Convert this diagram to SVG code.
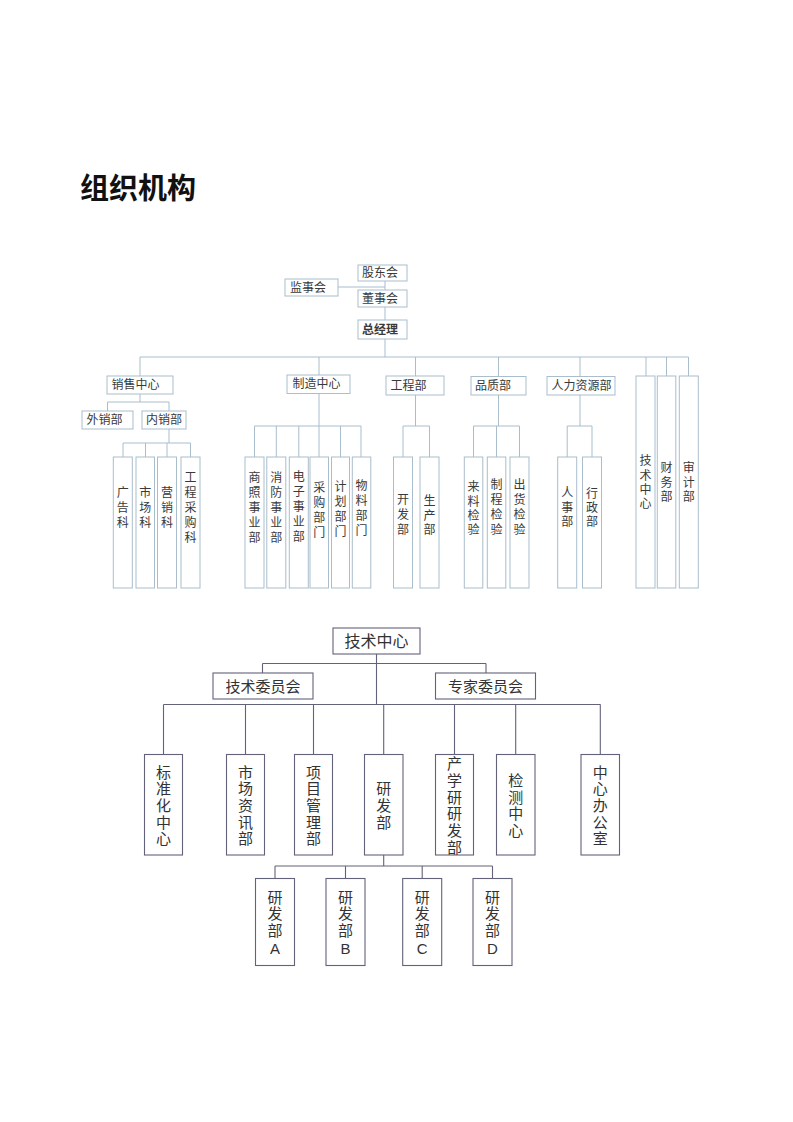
<svg xmlns="http://www.w3.org/2000/svg" width="793" height="1122" viewBox="0 0 793 1122">
<style>
text{font-family:"Liberation Sans","Noto Sans CJK SC",sans-serif;dominant-baseline:central}
.t rect{fill:#fff;stroke:#a9bdcc;stroke-width:1}
.t text{font-size:12px;fill:#3a3a3a}
.tc line{stroke:#a9bdcc;stroke-width:1}
.b rect{fill:#fff;stroke:#62627a;stroke-width:1.1}
.b text{font-size:15px;fill:#333;text-anchor:middle}
.bc line{stroke:#62627a;stroke-width:1.1}
.v text{text-anchor:middle}
</style>
<rect width="793" height="1122" fill="#fff"/>
<text x="80" y="186" style="font-family:'Noto Sans CJK SC',sans-serif;font-size:29px;font-weight:700;fill:#111">组织机构</text>

<g id="top-connectors" class="tc">
<line x1="338" y1="287" x2="385" y2="287"/>
<line x1="385" y1="281" x2="385" y2="290"/>
<line x1="385" y1="307" x2="385" y2="320"/>
<line x1="385" y1="339" x2="385" y2="357"/>
<line x1="140" y1="357" x2="688.5" y2="357"/>
<line x1="140" y1="357" x2="140" y2="376"/>
<line x1="319" y1="357" x2="319" y2="375"/>
<line x1="415.5" y1="357" x2="415.5" y2="376"/>
<line x1="498.5" y1="357" x2="498.5" y2="376.5"/>
<line x1="580" y1="357" x2="580" y2="376.5"/>
<line x1="646" y1="357" x2="646" y2="376"/>
<line x1="666.5" y1="357" x2="666.5" y2="376"/>
<line x1="688.5" y1="357" x2="688.5" y2="376"/>
<line x1="140" y1="394" x2="140" y2="402"/>
<line x1="107.5" y1="402" x2="169" y2="402"/>
<line x1="107.5" y1="402" x2="107.5" y2="411"/>
<line x1="169" y1="402" x2="169" y2="411"/>
<line x1="169" y1="429" x2="169" y2="443"/>
<line x1="123" y1="443" x2="190.5" y2="443"/>
<line x1="123" y1="443" x2="123" y2="457"/>
<line x1="145.5" y1="443" x2="145.5" y2="457"/>
<line x1="167" y1="443" x2="167" y2="457"/>
<line x1="190.5" y1="443" x2="190.5" y2="457"/>
<line x1="319" y1="393.5" x2="319" y2="426"/>
<line x1="254.5" y1="426" x2="361" y2="426"/>
<line x1="254.5" y1="426" x2="254.5" y2="457"/>
<line x1="276.3" y1="426" x2="276.3" y2="457"/>
<line x1="298.8" y1="426" x2="298.8" y2="457"/>
<line x1="319" y1="426" x2="319" y2="457"/>
<line x1="340.5" y1="426" x2="340.5" y2="457"/>
<line x1="361" y1="426" x2="361" y2="457"/>
<line x1="415.5" y1="395" x2="415.5" y2="426"/>
<line x1="403" y1="426" x2="429.5" y2="426"/>
<line x1="403" y1="426" x2="403" y2="457"/>
<line x1="429.5" y1="426" x2="429.5" y2="457"/>
<line x1="498.5" y1="395" x2="498.5" y2="426"/>
<line x1="473.5" y1="426" x2="519.5" y2="426"/>
<line x1="473.5" y1="426" x2="473.5" y2="457"/>
<line x1="496.5" y1="426" x2="496.5" y2="457"/>
<line x1="519.5" y1="426" x2="519.5" y2="457"/>
<line x1="580" y1="395" x2="580" y2="426"/>
<line x1="567.2" y1="426" x2="592" y2="426"/>
<line x1="567.2" y1="426" x2="567.2" y2="457"/>
<line x1="592" y1="426" x2="592" y2="457"/>
</g>

<g class="t">
<g id="gudonghui"><rect x="358" y="265" width="49" height="16"/><text x="362" y="273">股东会</text></g>
<g id="jianshihui"><rect x="285" y="279" width="53" height="17"/><text x="290" y="287.5">监事会</text></g>
<g id="dongshihui"><rect x="358" y="290" width="49" height="17"/><text x="362" y="298.5">董事会</text></g>
<g id="zongjingli"><rect x="358" y="320" width="49" height="19"/><text x="362" y="329.5" font-weight="700">总经理</text></g>
<g id="xiaoshou"><rect x="107" y="376" width="66" height="18"/><text x="111.5" y="385">销售中心</text></g>
<g id="waixiao"><rect x="82" y="411" width="51" height="18"/><text x="86.5" y="420">外销部</text></g>
<g id="neixiao"><rect x="142" y="411" width="44" height="18"/><text x="146" y="420">内销部</text></g>
<g id="zhizao"><rect x="287" y="375" width="63" height="18.5"/><text x="292.5" y="384.2">制造中心</text></g>
<g id="gongcheng"><rect x="386" y="376" width="58" height="19"/><text x="390.5" y="385.5">工程部</text></g>
<g id="pinzhi"><rect x="471" y="376.5" width="55" height="18.5"/><text x="475" y="385.8">品质部</text></g>
<g id="renli"><rect x="547" y="376.5" width="68" height="18.5"/><text x="551.5" y="385.8">人力资源部</text></g>

<g class="v">
<g id="guanggao"><rect x="113.3" y="457" width="19" height="131"/><text><tspan x="122.8" y="493">广</tspan><tspan x="122.8" y="508">告</tspan><tspan x="122.8" y="523">科</tspan></text></g>
<g id="shichang"><rect x="136" y="457" width="18.5" height="131"/><text><tspan x="145.2" y="493">市</tspan><tspan x="145.2" y="508">场</tspan><tspan x="145.2" y="523">科</tspan></text></g>
<g id="yingxiao"><rect x="157.5" y="457" width="19" height="131"/><text><tspan x="167" y="493">营</tspan><tspan x="167" y="508">销</tspan><tspan x="167" y="523">科</tspan></text></g>
<g id="gcaigou"><rect x="181" y="457" width="19" height="131"/><text><tspan x="190.5" y="478">工</tspan><tspan x="190.5" y="493">程</tspan><tspan x="190.5" y="508">采</tspan><tspan x="190.5" y="523">购</tspan><tspan x="190.5" y="538">科</tspan></text></g>
<g id="shangzhao"><rect x="245" y="457" width="19" height="131"/><text><tspan x="254.5" y="478">商</tspan><tspan x="254.5" y="493">照</tspan><tspan x="254.5" y="508">事</tspan><tspan x="254.5" y="523">业</tspan><tspan x="254.5" y="538">部</tspan></text></g>
<g id="xiaofang"><rect x="266.8" y="457" width="19" height="131"/><text><tspan x="276.3" y="478">消</tspan><tspan x="276.3" y="493">防</tspan><tspan x="276.3" y="508">事</tspan><tspan x="276.3" y="523">业</tspan><tspan x="276.3" y="538">部</tspan></text></g>
<g id="dianzi"><rect x="289.3" y="457" width="19" height="131"/><text><tspan x="298.8" y="477">电</tspan><tspan x="298.8" y="492">子</tspan><tspan x="298.8" y="507">事</tspan><tspan x="298.8" y="522">业</tspan><tspan x="298.8" y="537">部</tspan></text></g>
<g id="caigou"><rect x="310" y="457" width="18.5" height="131"/><text><tspan x="319.2" y="488">采</tspan><tspan x="319.2" y="503">购</tspan><tspan x="319.2" y="518">部</tspan><tspan x="319.2" y="533">门</tspan></text></g>
<g id="jihua"><rect x="331.5" y="457" width="18" height="131"/><text><tspan x="340.5" y="487">计</tspan><tspan x="340.5" y="502">划</tspan><tspan x="340.5" y="517">部</tspan><tspan x="340.5" y="532">门</tspan></text></g>
<g id="wuliao"><rect x="352.3" y="457" width="18.5" height="131"/><text><tspan x="361.5" y="486">物</tspan><tspan x="361.5" y="501">料</tspan><tspan x="361.5" y="516">部</tspan><tspan x="361.5" y="531">门</tspan></text></g>
<g id="kaifa"><rect x="393.5" y="457" width="19" height="131"/><text><tspan x="403" y="500">开</tspan><tspan x="403" y="515">发</tspan><tspan x="403" y="530">部</tspan></text></g>
<g id="shengchan"><rect x="420" y="457" width="19" height="131"/><text><tspan x="429.5" y="501">生</tspan><tspan x="429.5" y="516">产</tspan><tspan x="429.5" y="530">部</tspan></text></g>
<g id="lailiao"><rect x="464.3" y="457" width="18.5" height="131"/><text><tspan x="473.5" y="487">来</tspan><tspan x="473.5" y="501.5">料</tspan><tspan x="473.5" y="516">检</tspan><tspan x="473.5" y="530">验</tspan></text></g>
<g id="zhicheng"><rect x="487.3" y="457" width="18.5" height="131"/><text><tspan x="496.5" y="485">制</tspan><tspan x="496.5" y="500">程</tspan><tspan x="496.5" y="515">检</tspan><tspan x="496.5" y="530">验</tspan></text></g>
<g id="chuhuo"><rect x="510" y="457" width="19" height="131"/><text><tspan x="519.5" y="485">出</tspan><tspan x="519.5" y="500">货</tspan><tspan x="519.5" y="515">检</tspan><tspan x="519.5" y="530">验</tspan></text></g>
<g id="renshi"><rect x="557.7" y="457" width="19" height="131"/><text><tspan x="567.2" y="493">人</tspan><tspan x="567.2" y="508">事</tspan><tspan x="567.2" y="522">部</tspan></text></g>
<g id="xingzheng"><rect x="582.5" y="457" width="19" height="131"/><text><tspan x="592" y="494">行</tspan><tspan x="592" y="508">政</tspan><tspan x="592" y="522">部</tspan></text></g>
<g id="jishu-top"><rect x="636" y="376" width="19" height="212"/><text><tspan x="645.5" y="461">技</tspan><tspan x="645.5" y="476">术</tspan><tspan x="645.5" y="490">中</tspan><tspan x="645.5" y="504">心</tspan></text></g>
<g id="caiwu"><rect x="657.3" y="376" width="18.5" height="212"/><text><tspan x="666.5" y="468">财</tspan><tspan x="666.5" y="483">务</tspan><tspan x="666.5" y="497">部</tspan></text></g>
<g id="shenji"><rect x="679.3" y="376" width="19" height="212"/><text><tspan x="688.8" y="468">审</tspan><tspan x="688.8" y="483">计</tspan><tspan x="688.8" y="497">部</tspan></text></g>
</g>
</g>

<g id="bottom-connectors" class="bc">
<line x1="376.5" y1="654" x2="376.5" y2="704.5"/>
<line x1="262.5" y1="663.5" x2="486" y2="663.5"/>
<line x1="262.5" y1="663.5" x2="262.5" y2="673"/>
<line x1="486" y1="663.5" x2="486" y2="673"/>
<line x1="163.5" y1="704.5" x2="600.5" y2="704.5"/>
<line x1="163.5" y1="704.5" x2="163.5" y2="754.5"/>
<line x1="245.5" y1="704.5" x2="245.5" y2="754.5"/>
<line x1="313.5" y1="704.5" x2="313.5" y2="754.5"/>
<line x1="383.7" y1="704.5" x2="383.7" y2="754.5"/>
<line x1="454.5" y1="704.5" x2="454.5" y2="754.5"/>
<line x1="515.7" y1="704.5" x2="515.7" y2="754.5"/>
<line x1="600.3" y1="704.5" x2="600.3" y2="754.5"/>
<line x1="383.7" y1="855" x2="383.7" y2="866"/>
<line x1="275" y1="866" x2="492.5" y2="866"/>
<line x1="275" y1="866" x2="275" y2="878.5"/>
<line x1="345.5" y1="866" x2="345.5" y2="878.5"/>
<line x1="422.2" y1="866" x2="422.2" y2="878.5"/>
<line x1="492.5" y1="866" x2="492.5" y2="878.5"/>
</g>

<g class="b">
<g id="jishuzhongxin"><rect x="333" y="628" width="87" height="26"/><text x="376.5" y="641" style="font-size:16px">技术中心</text></g>
<g id="jishuweiyuanhui"><rect x="213" y="673" width="100" height="26"/><text x="263" y="686">技术委员会</text></g>
<g id="zhuanjiaweiyuanhui"><rect x="435.5" y="673" width="100" height="26"/><text x="485.5" y="686">专家委员会</text></g>
<g id="biaozhunhua"><rect x="144.5" y="754.5" width="38" height="100.5"/><text><tspan x="163.5" y="771.7">标</tspan><tspan x="163.5" y="788.3">准</tspan><tspan x="163.5" y="805">化</tspan><tspan x="163.5" y="821.7">中</tspan><tspan x="163.5" y="838.3">心</tspan></text></g>
<g id="shichangzixun"><rect x="226.5" y="754.5" width="38" height="100.5"/><text><tspan x="245.5" y="771.7">市</tspan><tspan x="245.5" y="788.3">场</tspan><tspan x="245.5" y="805">资</tspan><tspan x="245.5" y="821.7">讯</tspan><tspan x="245.5" y="838.3">部</tspan></text></g>
<g id="xiangmuguanli"><rect x="294.5" y="754.5" width="38" height="100.5"/><text><tspan x="313.5" y="771.7">项</tspan><tspan x="313.5" y="788.3">目</tspan><tspan x="313.5" y="805">管</tspan><tspan x="313.5" y="821.7">理</tspan><tspan x="313.5" y="838.3">部</tspan></text></g>
<g id="yanfabu"><rect x="364.5" y="754.5" width="38.5" height="100.5"/><text><tspan x="383.7" y="788.3">研</tspan><tspan x="383.7" y="805">发</tspan><tspan x="383.7" y="821.7">部</tspan></text></g>
<g id="chanxueyan"><rect x="435.5" y="754.5" width="38" height="100.5"/><text><tspan x="454.5" y="763.3">产</tspan><tspan x="454.5" y="780">学</tspan><tspan x="454.5" y="796.7">研</tspan><tspan x="454.5" y="813.3">研</tspan><tspan x="454.5" y="830">发</tspan><tspan x="454.5" y="846.7">部</tspan></text></g>
<g id="jiance"><rect x="496.5" y="754.5" width="38.5" height="100.5"/><text><tspan x="515.7" y="780">检</tspan><tspan x="515.7" y="796.7">测</tspan><tspan x="515.7" y="813.3">中</tspan><tspan x="515.7" y="830">心</tspan></text></g>
<g id="bangongshi"><rect x="581" y="754.5" width="38.5" height="100.5"/><text><tspan x="600.3" y="771.7">中</tspan><tspan x="600.3" y="788.3">心</tspan><tspan x="600.3" y="805">办</tspan><tspan x="600.3" y="821.7">公</tspan><tspan x="600.3" y="838.3">室</tspan></text></g>
<g id="yanfa-a"><rect x="255.5" y="878.5" width="39" height="87"/><text><tspan x="275" y="896.7">研</tspan><tspan x="275" y="913.3">发</tspan><tspan x="275" y="930">部</tspan><tspan x="275" y="947.7">A</tspan></text></g>
<g id="yanfa-b"><rect x="326" y="878.5" width="39" height="87"/><text><tspan x="345.5" y="896.7">研</tspan><tspan x="345.5" y="913.3">发</tspan><tspan x="345.5" y="930">部</tspan><tspan x="345.5" y="947.7">B</tspan></text></g>
<g id="yanfa-c"><rect x="402.7" y="878.5" width="39" height="87"/><text><tspan x="422.2" y="896.7">研</tspan><tspan x="422.2" y="913.3">发</tspan><tspan x="422.2" y="930">部</tspan><tspan x="422.2" y="947.7">C</tspan></text></g>
<g id="yanfa-d"><rect x="473" y="878.5" width="39" height="87"/><text><tspan x="492.5" y="896.7">研</tspan><tspan x="492.5" y="913.3">发</tspan><tspan x="492.5" y="930">部</tspan><tspan x="492.5" y="947.7">D</tspan></text></g>
</g>
</svg>
